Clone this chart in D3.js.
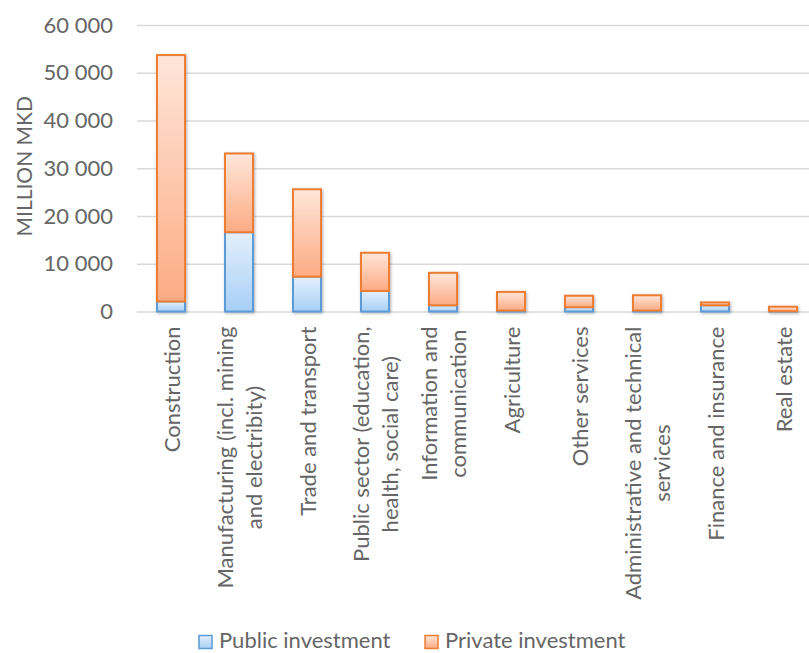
<!DOCTYPE html>
<html>
<head>
<meta charset="utf-8">
<script src="https://cdn.jsdelivr.net/npm/d3@7"></script>
<style>
  html, body { margin: 0; padding: 0; background: #fff; }
  svg { display: block; }
  text { font-family: Lato, "Open Sans", sans-serif; fill: #666666; }
</style>
</head>
<body>
<svg id="chart" width="809" height="653"></svg>
<script>
// Investment by sector, million MKD
const categories = [
  ["Construction"],
  ["Manufacturing (incl. mining", "and electribity)"],
  ["Trade and transport"],
  ["Public sector (education,", "health, social care)"],
  ["Information and", "communication"],
  ["Agriculture"],
  ["Other services"],
  ["Administrative and technical", "services"],
  ["Finance and insurance"],
  ["Real estate"]
];
const publicInvestment  = [2100, 16600, 7300, 4300, 1300, 200, 900, 200, 1300, 50];
const privateInvestment = [51600, 16500, 18300, 8000, 6800, 3900, 2400, 3200, 600, 950];
const yTicks = [0, 10000, 20000, 30000, 40000, 50000, 60000];
const seriesNames = ["Public investment", "Private investment"];

const W = 809, H = 653;
const plot = { left: 137, right: 817, top: 25, bottom: 311.5 };
const fontSize = 22;

const svg = d3.select("#chart");
const defs = svg.append("defs");

// Vertical gradients for each series
function gradient(id, top, bottom) {
  const g = defs.append("linearGradient").attr("id", id)
    .attr("x1", 0).attr("y1", 0).attr("x2", 0).attr("y2", 1);
  g.append("stop").attr("offset", "0%").attr("stop-color", top);
  g.append("stop").attr("offset", "100%").attr("stop-color", bottom);
}
gradient("gradPublic", "#E4F0FC", "#A7CFF6");
gradient("gradPrivate", "#FFE6DA", "#FCAB83");

const shadow = defs.append("filter").attr("id", "barShadow")
  .attr("x", "-30%").attr("y", "-30%").attr("width", "160%").attr("height", "160%");
shadow.append("feDropShadow").attr("dx", 1).attr("dy", 1)
  .attr("stdDeviation", 1.8).attr("flood-color", "#000").attr("flood-opacity", 0.3);

const styles = [
  { fill: "url(#gradPublic)", stroke: "#5B9BD5" },
  { fill: "url(#gradPrivate)", stroke: "#ED7D31" }
];

const x = d3.scaleBand()
  .domain(d3.range(categories.length))
  .range([plot.left, plot.right])
  .paddingInner(0.588)
  .paddingOuter(0.294);

const y = d3.scaleLinear().domain([0, 60000]).range([plot.bottom, plot.top]);

const fmt = v => d3.format(",")(v).replace(/,/g, " ");

// Gridlines and y tick labels
const yAxis = d3.axisLeft(y).tickValues(yTicks).tickFormat(fmt)
  .tickSize(-(W - plot.left)).tickPadding(24);
const ga = svg.append("g").attr("transform", `translate(${plot.left},0)`).call(yAxis);
ga.select(".domain").remove();
ga.selectAll(".tick line").attr("stroke", "#D9D9D9").attr("stroke-width", 1.4);
ga.selectAll(".tick text")
  .style("font-family", "Lato, 'Open Sans', sans-serif")
  .style("font-size", fontSize + "px").attr("fill", "#666666");

// Axis title
svg.append("text")
  .attr("transform", `translate(23,${(plot.top + plot.bottom) / 2 - 2}) rotate(-90)`)
  .attr("text-anchor", "middle")
  .attr("dominant-baseline", "central")
  .style("font-size", "21px")
  .text("MILLION MKD");

// Stacked bars
const stackData = categories.map((c, i) => ({ i, pub: publicInvestment[i], priv: privateInvestment[i] }));
const stack = d3.stack().keys(["pub", "priv"])(stackData);

const bars = svg.append("g").attr("filter", "url(#barShadow)");
stack.forEach((layer, k) => {
  bars.append("g").selectAll("rect").data(layer).join("rect")
    .attr("x", d => x(d.data.i))
    .attr("width", x.bandwidth())
    .attr("y", d => y(d[1]))
    .attr("height", d => Math.max(0, y(d[0]) - y(d[1])))
    .attr("fill", styles[k].fill)
    .attr("stroke", styles[k].stroke)
    .attr("stroke-width", 2);
});

// Rotated category labels, lines centred, block hanging below the axis
const labelTop = plot.bottom + 15;
const lineHeight = fontSize * 1.3;
categories.forEach((lines, i) => {
  const cx = x(i) + x.bandwidth() / 2;
  const g = svg.append("g")
    .attr("transform", `translate(${cx},${labelTop}) rotate(-90)`);
  const texts = lines.map((line, j) => g.append("text")
    .attr("text-anchor", "middle")
    .attr("dominant-baseline", "central")
    .attr("y", (j - (lines.length - 1) / 2) * lineHeight)
    .style("font-size", fontSize + "px")
    .text(line));
  const maxLen = d3.max(texts, t => t.node().getComputedTextLength());
  texts.forEach(t => t.attr("x", -maxLen / 2));
});

// Legend
const legendBaseline = 648;
const legendX = [199, 425];
seriesNames.forEach((name, k) => {
  const lx = legendX[k];
  svg.append("rect")
    .attr("x", lx).attr("y", legendBaseline - 12.5)
    .attr("width", 13).attr("height", 13)
    .attr("fill", styles[k].fill).attr("stroke", styles[k].stroke).attr("stroke-width", 1.5);
  svg.append("text")
    .attr("x", lx + 20).attr("y", legendBaseline)
    .style("font-size", fontSize + "px")
    .text(name);
});
</script>
</body>
</html>
